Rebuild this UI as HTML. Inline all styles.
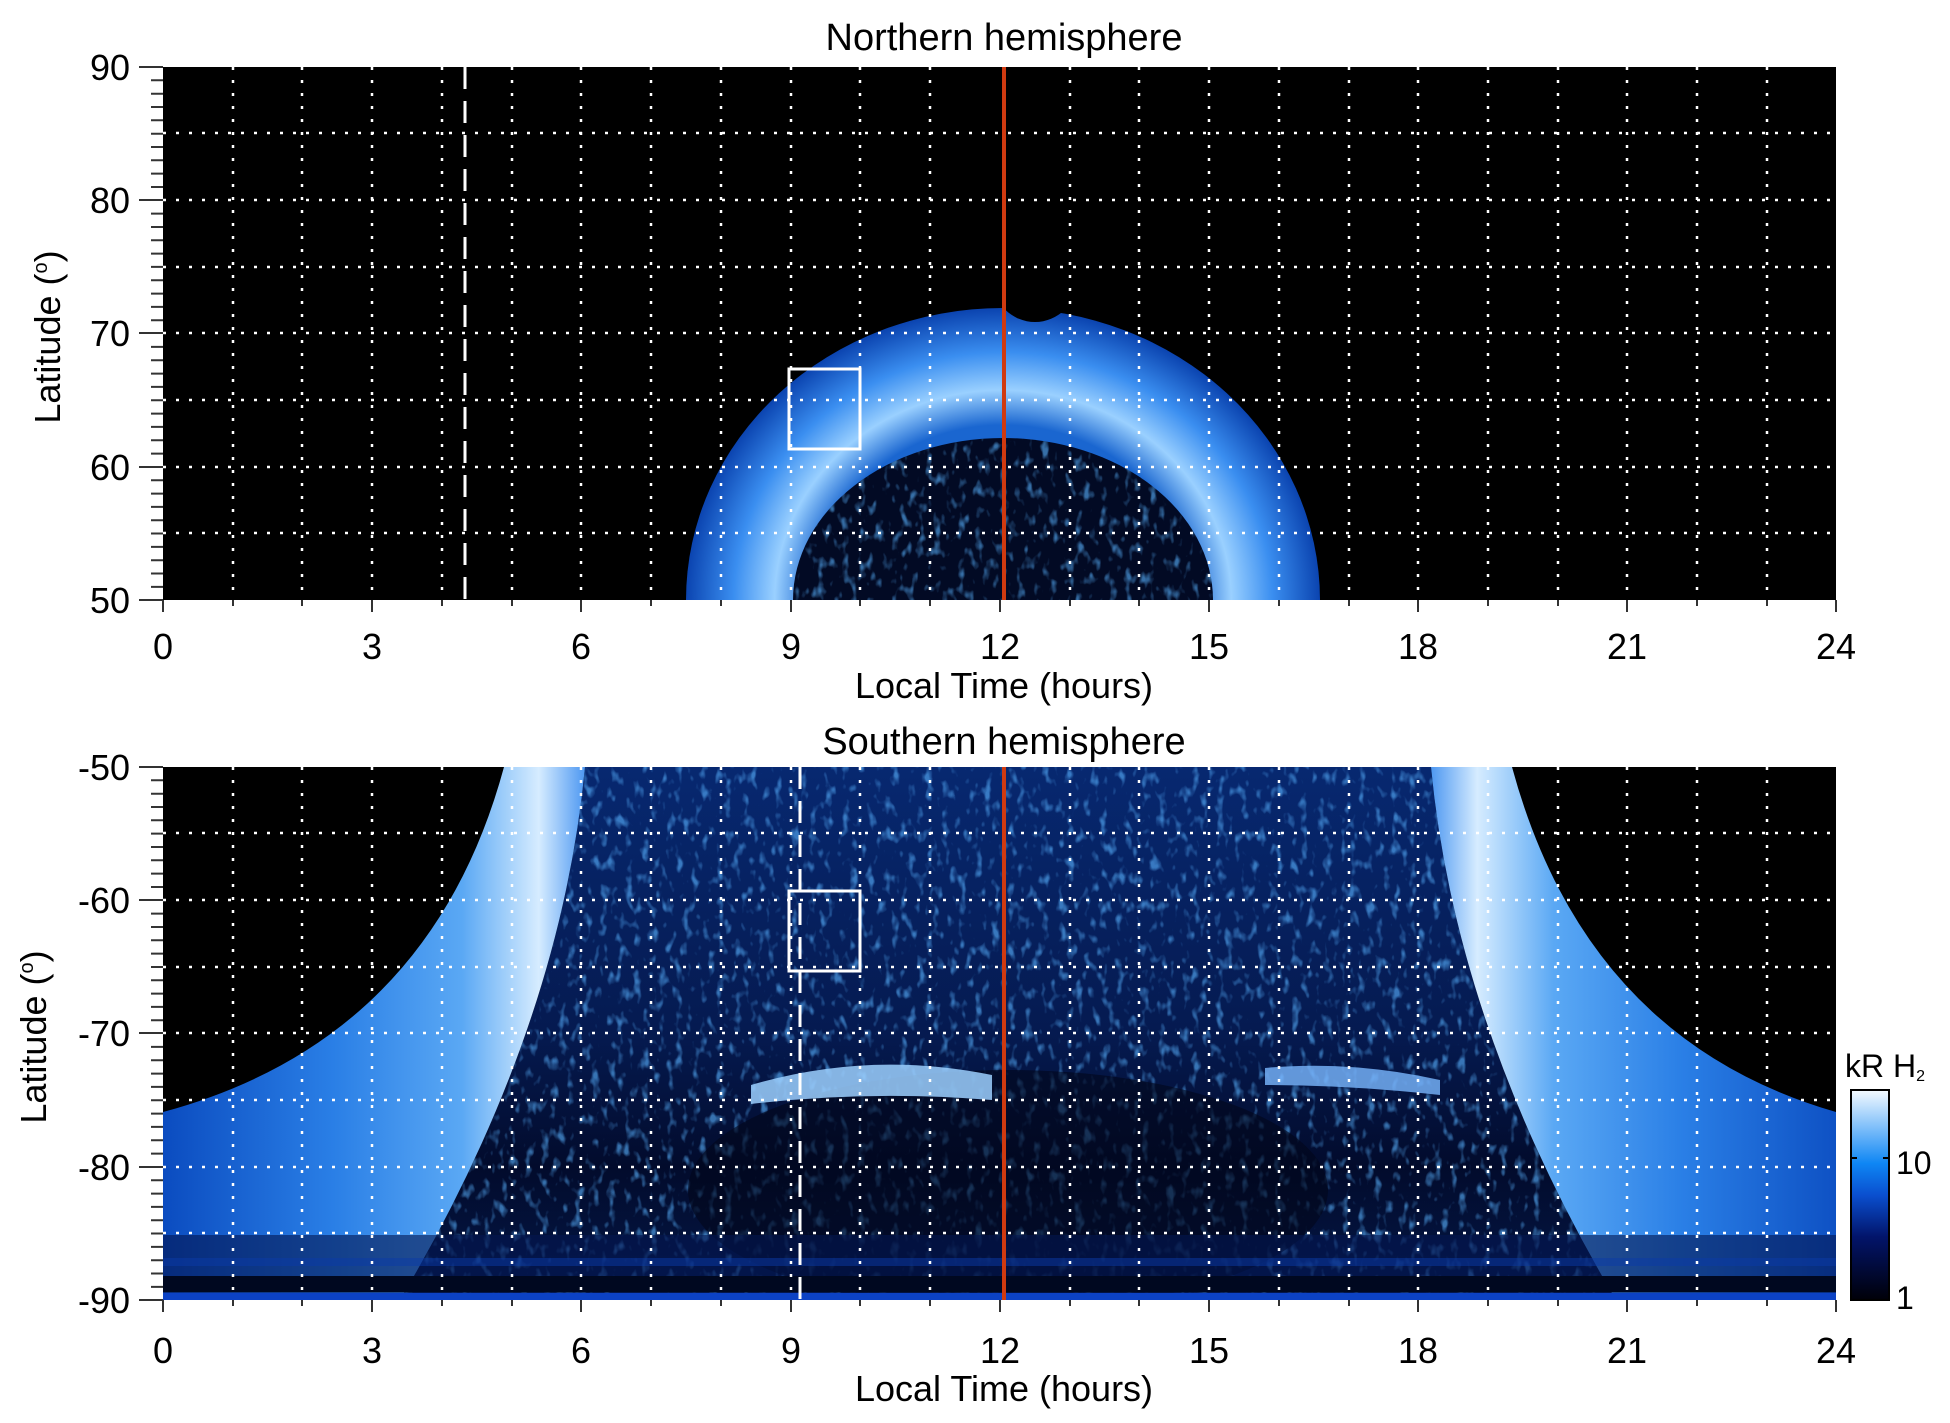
<!DOCTYPE html>
<html><head><meta charset="utf-8"><style>
html,body{margin:0;padding:0;background:#fff;}
svg{display:block;}
text{font-family:"Liberation Sans",sans-serif;fill:#000;}
</style></head><body>
<svg width="1950" height="1423" viewBox="0 0 1950 1423" xmlns="http://www.w3.org/2000/svg">
<defs>
<clipPath id="ct"><rect x="163" y="67" width="1673" height="533"/></clipPath>
<clipPath id="cb"><rect x="163" y="767" width="1673" height="533"/></clipPath>
<radialGradient id="gTop" cx="1003" cy="600" r="317" gradientUnits="userSpaceOnUse" gradientTransform="translate(1003 600) scale(1 0.92) translate(-1003 -600)">
 <stop offset="0.6" stop-color="#1a66d0"/>
 <stop offset="0.72" stop-color="#9ad0ff"/>
 <stop offset="0.85" stop-color="#3a8ef0"/>
 <stop offset="1" stop-color="#0b44b0"/>
</radialGradient>
<linearGradient id="gL" x1="163" y1="0" x2="590" y2="0" gradientUnits="userSpaceOnUse">
 <stop offset="0" stop-color="#0b4cc0"/>
 <stop offset="0.4" stop-color="#2a7fe6"/>
 <stop offset="0.7" stop-color="#5aa8f4"/>
 <stop offset="0.88" stop-color="#d6ecff"/>
 <stop offset="1" stop-color="#3f8ff0"/>
</linearGradient>
<linearGradient id="gCb" x1="0" y1="1300" x2="0" y2="1090" gradientUnits="userSpaceOnUse">
 <stop offset="0" stop-color="#000008"/>
 <stop offset="0.3" stop-color="#02146a"/>
 <stop offset="0.5" stop-color="#0a4fcf"/>
 <stop offset="0.65" stop-color="#0e86f4"/>
 <stop offset="1" stop-color="#f4faff"/>
</linearGradient>
<linearGradient id="gMid" x1="0" y1="767" x2="0" y2="1300" gradientUnits="userSpaceOnUse">
 <stop offset="0" stop-color="#072870"/>
 <stop offset="0.5" stop-color="#051a50"/>
 <stop offset="0.75" stop-color="#020b2c"/>
 <stop offset="1" stop-color="#041848"/>
</linearGradient>
<filter id="spk" x="0" y="0" width="1" height="1">
 <feTurbulence type="fractalNoise" baseFrequency="0.12 0.07" numOctaves="2" seed="3" result="n"/>
 <feColorMatrix in="n" type="matrix" values="0 0 0 0 0.1  0 0 0 0 0.45  0 0 0 0 1  4 0 0 0 -2.2"/>
 <feComposite in2="SourceGraphic" operator="in"/>
</filter>
</defs>

<!-- TOP PLOT -->
<rect x="163" y="67" width="1673" height="533" fill="#000"/>
<g clip-path="url(#ct)">
 <ellipse cx="1003" cy="600" rx="317" ry="292" fill="url(#gTop)"/>
 <circle cx="1035" cy="280" r="42" fill="#000"/>
 <ellipse cx="1003" cy="600" rx="210" ry="162" fill="#020a24"/>
 <ellipse cx="1003" cy="600" rx="210" ry="162" fill="#fff" filter="url(#spk)" opacity="0.6"/>
</g>
<g stroke="#fff" stroke-width="2.5" stroke-dasharray="3 10" fill="none">
 <path d="M163 133H1836M163 200H1836M163 267H1836M163 333H1836M163 400H1836M163 467H1836M163 533H1836"/>
 <path d="M233 67V600M302 67V600M372 67V600M442 67V600M512 67V600M581 67V600M651 67V600M721 67V600M791 67V600M860 67V600M930 67V600M1070 67V600M1139 67V600M1209 67V600M1279 67V600M1349 67V600M1418 67V600M1488 67V600M1558 67V600M1627 67V600M1697 67V600M1767 67V600"/>
</g>
<line x1="465" y1="67" x2="465" y2="600" stroke="#fff" stroke-width="3" stroke-dasharray="22 12"/>
<rect x="789" y="369" width="71" height="80" fill="none" stroke="#fff" stroke-width="3"/>
<line x1="1004" y1="67" x2="1004" y2="600" stroke="#d03a10" stroke-width="4"/>

<!-- BOTTOM PLOT -->
<rect x="163" y="767" width="1673" height="533" fill="#000"/>
<g clip-path="url(#cb)">
 <path d="M585 767Q560 1030 400 1300L1616 1300Q1456 1030 1431 767Z" fill="url(#gMid)"/>
 <path d="M585 767Q560 1030 400 1300L1616 1300Q1456 1030 1431 767Z" fill="#fff" filter="url(#spk)" opacity="0.6"/>
 <ellipse cx="1008" cy="1190" rx="320" ry="120" fill="#01061a" opacity="0.6"/>
 <path d="M751 1085Q870 1050 992 1075L992 1100Q870 1090 751 1104Z" fill="#9cd0ff" opacity="0.85"/>
 <path d="M1265 1068Q1350 1060 1440 1080L1440 1095Q1350 1085 1265 1085Z" fill="#7ab8ff" opacity="0.8"/>
 <path d="M504 767Q430 1040 163 1112L163 1300L400 1300Q560 1030 585 767Z" fill="url(#gL)"/>
 <g transform="translate(2016 0) scale(-1 1)">
  <path d="M504 767Q430 1040 180 1112L180 1300L400 1300Q560 1030 585 767Z" fill="url(#gL)"/>
 </g>
 <rect x="163" y="1235" width="1673" height="65" fill="#031550" opacity="0.6"/>
 <rect x="163" y="1258" width="1673" height="8" fill="#0a3aa8" opacity="0.5"/>
 <rect x="163" y="1276" width="1673" height="16" fill="#000820"/>
 <rect x="163" y="1293" width="1673" height="7" fill="#0c42c4"/>
</g>
<g stroke="#fff" stroke-width="2.5" stroke-dasharray="3 10" fill="none">
 <path d="M163 833H1836M163 900H1836M163 967H1836M163 1033H1836M163 1100H1836M163 1167H1836M163 1233H1836"/>
 <path d="M233 767V1300M302 767V1300M372 767V1300M442 767V1300M512 767V1300M581 767V1300M651 767V1300M721 767V1300M791 767V1300M860 767V1300M930 767V1300M1070 767V1300M1139 767V1300M1209 767V1300M1279 767V1300M1349 767V1300M1418 767V1300M1488 767V1300M1558 767V1300M1627 767V1300M1697 767V1300M1767 767V1300"/>
</g>
<line x1="800" y1="767" x2="800" y2="1300" stroke="#fff" stroke-width="3" stroke-dasharray="22 12"/>
<rect x="789" y="891" width="71" height="80" fill="none" stroke="#fff" stroke-width="3"/>
<line x1="1004" y1="767" x2="1004" y2="1300" stroke="#d03a10" stroke-width="4"/>

<g stroke="#333" stroke-width="2" fill="none">
 <path d="M139 67H163M139 200H163M139 333H163M139 467H163M139 600H163"/>
 <path d="M139 767H163M139 900H163M139 1033H163M139 1167H163M139 1300H163"/>
 <path d="M163 600V612M372 600V612M581 600V612M791 600V612M1000 600V612M1209 600V612M1418 600V612M1627 600V612M1836 600V612"/>
 <path d="M163 1300V1312M372 1300V1312M581 1300V1312M791 1300V1312M1000 1300V1312M1209 1300V1312M1418 1300V1312M1627 1300V1312M1836 1300V1312"/>
 <path d="M233 600V606M302 600V606M442 600V606M512 600V606M651 600V606M721 600V606M860 600V606M930 600V606M1070 600V606M1139 600V606M1279 600V606M1349 600V606M1488 600V606M1558 600V606M1697 600V606M1767 600V606"/>
 <path d="M233 1300V1306M302 1300V1306M442 1300V1306M512 1300V1306M651 1300V1306M721 1300V1306M860 1300V1306M930 1300V1306M1070 1300V1306M1139 1300V1306M1279 1300V1306M1349 1300V1306M1488 1300V1306M1558 1300V1306M1697 1300V1306M1767 1300V1306"/>
</g>
<script>
(function(){
 var svg=document.querySelector('svg');var ns='http://www.w3.org/2000/svg';
 var d='';
 [67,767].forEach(function(t){for(var i=1;i<40;i++){if(i%10==0)continue;var y=t+i*13.33;d+='M151 '+y.toFixed(1)+'H163';}});
 var p=document.createElementNS(ns,'path');p.setAttribute('d',d);p.setAttribute('stroke','#333');p.setAttribute('stroke-width','2');svg.appendChild(p);
})();
</script>

<g font-size="36" text-anchor="end">
 <text x="130" y="80">90</text><text x="130" y="213">80</text><text x="130" y="346">70</text><text x="130" y="480">60</text><text x="130" y="613">50</text>
 <text x="130" y="780">-50</text><text x="130" y="913">-60</text><text x="130" y="1046">-70</text><text x="130" y="1180">-80</text><text x="130" y="1313">-90</text>
</g>
<g font-size="36" text-anchor="middle">
 <text x="163" y="659">0</text><text x="372" y="659">3</text><text x="581" y="659">6</text><text x="791" y="659">9</text><text x="1000" y="659">12</text><text x="1209" y="659">15</text><text x="1418" y="659">18</text><text x="1627" y="659">21</text><text x="1836" y="659">24</text>
 <text x="163" y="1363">0</text><text x="372" y="1363">3</text><text x="581" y="1363">6</text><text x="791" y="1363">9</text><text x="1000" y="1363">12</text><text x="1209" y="1363">15</text><text x="1418" y="1363">18</text><text x="1627" y="1363">21</text><text x="1836" y="1363">24</text>
 <text x="1004" y="698">Local Time (hours)</text>
 <text x="1004" y="1401">Local Time (hours)</text>
 <text x="1004" y="50" font-size="38">Northern hemisphere</text>
 <text x="1004" y="754" font-size="38">Southern hemisphere</text>
</g>
<text transform="translate(60 337) rotate(-90)" font-size="36" text-anchor="middle">Latitude (<tspan font-size="20" dy="-13">o</tspan><tspan dy="13">)</tspan></text>
<text transform="translate(46 1037) rotate(-90)" font-size="36" text-anchor="middle">Latitude (<tspan font-size="20" dy="-13">o</tspan><tspan dy="13">)</tspan></text>

<rect x="1851" y="1090" width="38" height="210" fill="url(#gCb)" stroke="#000" stroke-width="2"/>
<path d="M1851 1158H1857M1883 1158H1889" stroke="#000" stroke-width="2"/>
<text x="1845" y="1077" font-size="32">kR H<tspan font-size="16" dy="4">2</tspan></text>
<text x="1896" y="1174" font-size="32">10</text>
<text x="1896" y="1309" font-size="32">1</text>
</svg>
</body></html>
